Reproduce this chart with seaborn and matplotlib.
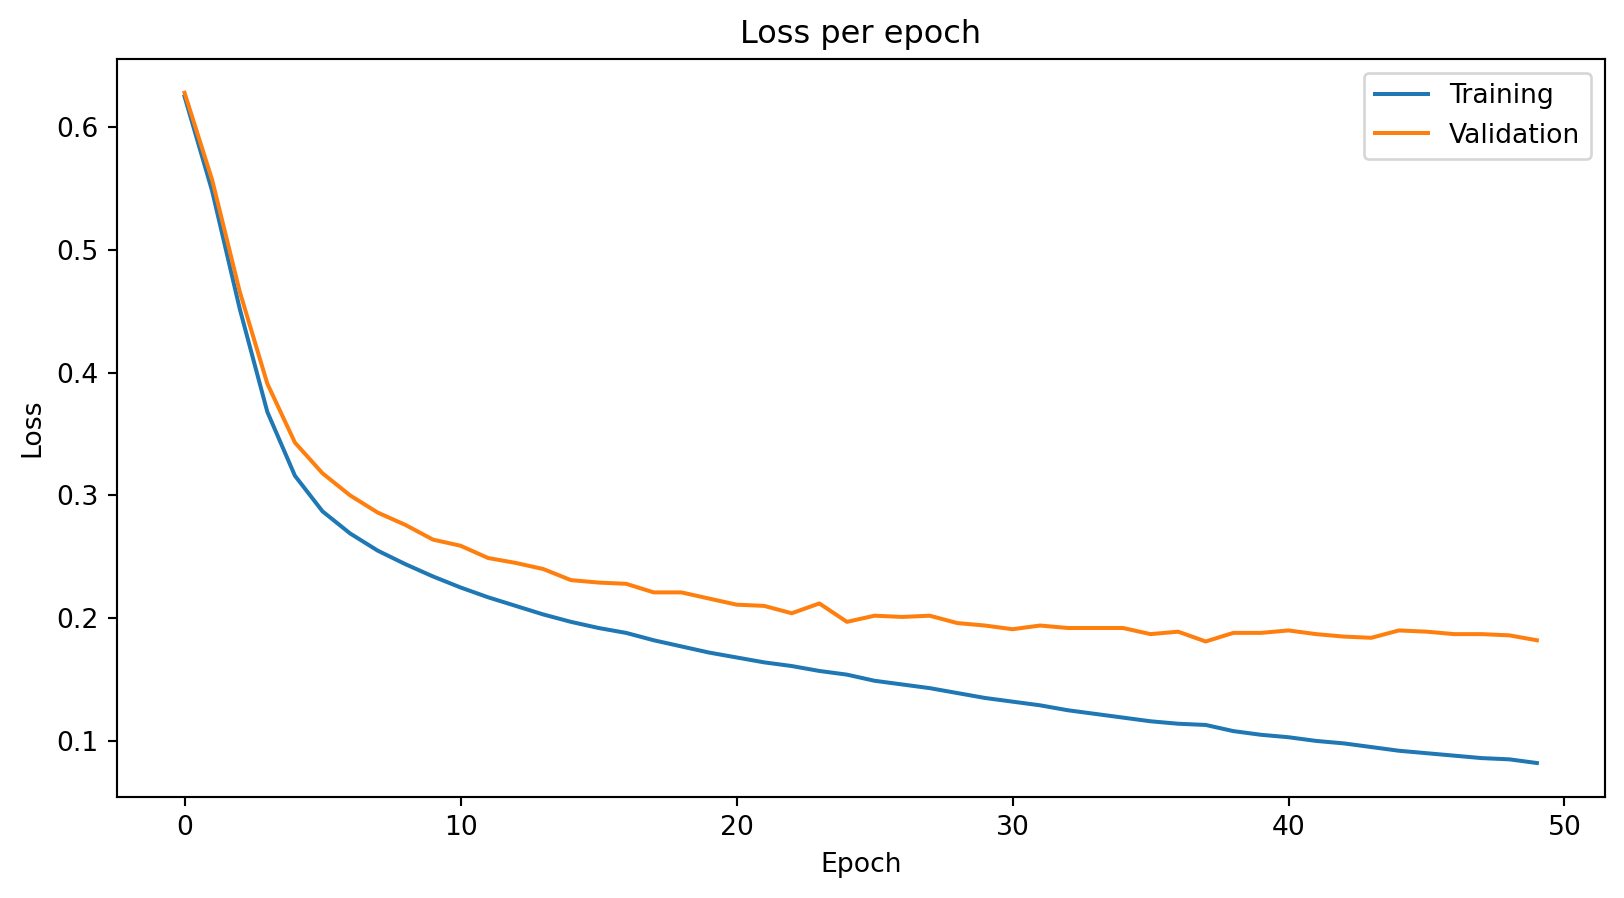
import numpy as np
import pandas as pd
import matplotlib
matplotlib.use("Agg")
import matplotlib.pyplot as plt
import seaborn as sns

# Loss values (50 epochs)
train_loss = [0.625, 0.548, 0.452, 0.368, 0.316, 0.287, 0.269, 0.255, 0.244, 0.234,
              0.225, 0.217, 0.210, 0.203, 0.197, 0.192, 0.188, 0.182, 0.177, 0.172,
              0.168, 0.164, 0.161, 0.157, 0.154, 0.149, 0.146, 0.143, 0.139, 0.135,
              0.132, 0.129, 0.125, 0.122, 0.119, 0.116, 0.114, 0.113, 0.108, 0.105,
              0.103, 0.100, 0.098, 0.095, 0.092, 0.090, 0.088, 0.086, 0.085, 0.082]
val_loss = [0.628, 0.557, 0.466, 0.391, 0.343, 0.318, 0.300, 0.286, 0.276, 0.264,
            0.259, 0.249, 0.245, 0.240, 0.231, 0.229, 0.228, 0.221, 0.221, 0.216,
            0.211, 0.210, 0.204, 0.212, 0.197, 0.202, 0.201, 0.202, 0.196, 0.194,
            0.191, 0.194, 0.192, 0.192, 0.192, 0.187, 0.189, 0.181, 0.188, 0.188,
            0.190, 0.187, 0.185, 0.184, 0.190, 0.189, 0.187, 0.187, 0.186, 0.182]
epochs = np.arange(len(train_loss))

df = pd.DataFrame({
    "Epoch": np.concatenate([epochs, epochs]),
    "Loss": train_loss + val_loss,
    "Set": ["Training"] * len(train_loss) + ["Validation"] * len(val_loss),
})

fig = plt.figure(figsize=(1624 / 192, 898 / 192), dpi=192)
ax = fig.add_axes([0.072, 0.113, 0.916, 0.821])
sns.lineplot(data=df, x="Epoch", y="Loss", hue="Set",
             palette=["#1f77b4", "#ff7f0e"], linewidth=1.5, ax=ax)
ax.set_title("Loss per epoch")
ax.set_xlabel("Epoch")
ax.set_ylabel("Loss")
ax.legend(loc="upper right", title=None)
fig.savefig("out.png", dpi=192)
